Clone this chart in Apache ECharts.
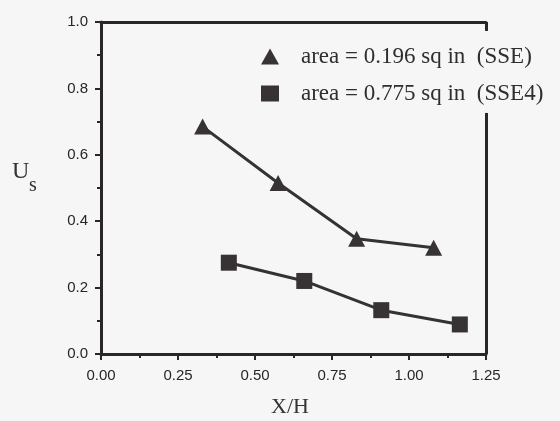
<!DOCTYPE html>
<html>
<head>
<meta charset="utf-8">
<script src="https://cdn.jsdelivr.net/npm/echarts@6/dist/echarts.min.js"></script>
<style>
html,body{margin:0;padding:0;background:#f6f6f6;}
#c{width:560px;height:421px;}
</style>
</head>
<body>
<div id="c"></div>
<script>
// Data
var sseX = [0.33, 0.575, 0.83, 1.08];
var sseY = [0.685, 0.515, 0.347, 0.32];
var sse4X = [0.415, 0.66, 0.91, 1.165];
var sse4Y = [0.275, 0.22, 0.132, 0.089];
var xTicks = [0, 0.25, 0.5, 0.75, 1.0, 1.25];
var yTicks = [0, 0.2, 0.4, 0.6, 0.8, 1.0];
var names = ['area = 0.196 sq in  (SSE)', 'area = 0.775 sq in  (SSE4)'];

function pairs(xs, ys){ return xs.map(function(x,i){ return [x, ys[i]]; }); }

var ink = '#2a2627';
var chart = echarts.init(document.getElementById('c'));
chart.setOption({
  backgroundColor: '#f6f6f6',
  animation: false,
  grid: {left: 101, right: 74, top: 22, bottom: 67},
  legend: {
    orient: 'vertical',
    left: 256,
    top: 40,
    itemWidth: 18,
    itemHeight: 16,
    itemGap: 14,
    textStyle: {fontFamily: 'Liberation Serif', fontSize: 23, color: '#2e2e2e', padding: [0,0,0,17]},
    data: [{name: names[0], icon: 'triangle'}, {name: names[1], icon: 'rect'}]
  },
  xAxis: [{
    type: 'value', min: 0, max: 1.25, interval: 0.25,
    axisLine: {show: true, onZero: false, lineStyle: {color: ink, width: 3}},
    axisTick: {show: true, inside: false, length: 6, lineStyle: {color: ink, width: 2}},
    minorTick: {show: true, splitNumber: 2, length: 4, lineStyle: {color: ink, width: 2}},
    splitLine: {show: false},
    axisLabel: {margin: 14, fontFamily: 'Liberation Sans', fontSize: 15, color: '#262626',
      formatter: function(v){ return v.toFixed(2); }}
  }, {
    type: 'value', position: 'top', min: 0, max: 1.25,
    axisLine: {show: true, onZero: false, lineStyle: {color: ink, width: 3}},
    axisTick: {show: false}, axisLabel: {show: false}, splitLine: {show: false}
  }],
  yAxis: {
    type: 'value', min: 0, max: 1.0, interval: 0.2,
    axisLine: {show: true, onZero: false, lineStyle: {color: ink, width: 3}},
    axisTick: {show: true, inside: false, length: 6, lineStyle: {color: ink, width: 2}},
    minorTick: {show: true, splitNumber: 2, length: 4, lineStyle: {color: ink, width: 2}},
    splitLine: {show: false},
    axisLabel: {margin: 13, fontFamily: 'Liberation Sans', fontSize: 15, color: '#262626',
      formatter: function(v){ return v.toFixed(1); }}
  },
  graphic: [
    {type: 'text', left: 12, top: 160, style: {text: 'U', font: '24px "Liberation Serif"', fill: '#333'}},
    {type: 'text', left: 29, top: 176, style: {text: 's', font: '20px "Liberation Serif"', fill: '#333'}},
    {type: 'text', left: 271, top: 396, style: {text: 'X/H', font: '22px "Liberation Serif"', fill: '#333'}}
  ],
  series: [{
    name: names[0], type: 'line', data: pairs(sseX, sseY),
    symbol: 'triangle', symbolSize: [17, 16], showAllSymbol: true,
    itemStyle: {color: '#373234'},
    lineStyle: {color: '#333', width: 3},
    markLine: {
      silent: true, symbol: 'none', label: {show: false},
      lineStyle: {color: ink, width: 3, type: 'solid'},
      data: [
        [{coord: [1.25, 0]}, {coord: [1.25, 0.726]}],
        [{coord: [1.25, 0.973]}, {coord: [1.25, 1.0]}]
      ]
    }
  }, {
    name: names[1], type: 'line', data: pairs(sse4X, sse4Y),
    symbol: 'rect', symbolSize: 16, showAllSymbol: true,
    itemStyle: {color: '#373234'},
    lineStyle: {color: '#333', width: 3}
  }]
});
</script>
</body>
</html>
